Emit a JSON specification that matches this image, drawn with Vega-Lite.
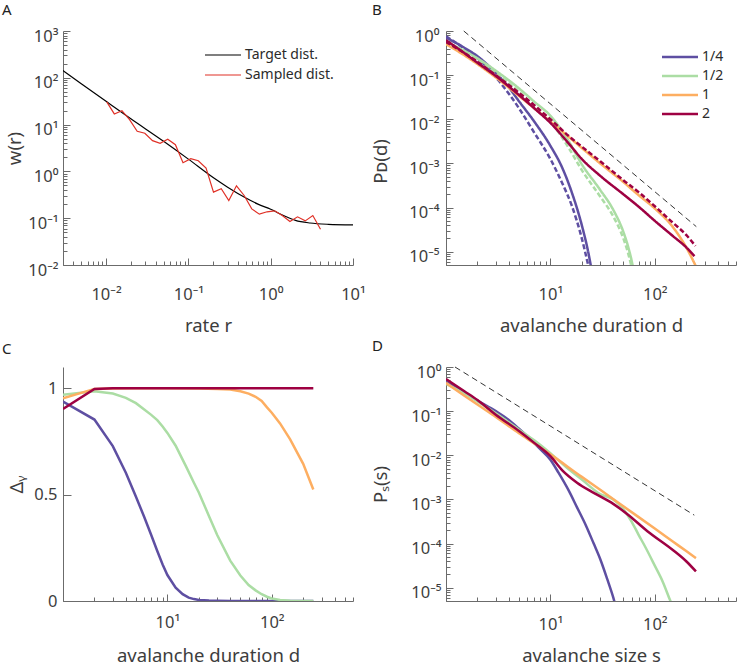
{
  "$schema": "https://vega.github.io/schema/vega-lite/v6.json",
  "padding": {"left": 2, "top": 3, "right": 0, "bottom": 0},
  "background": "white",
  "bounds": "flush",
  "columns": 2,
  "spacing": {"row": 102, "column": 93},
  "resolve": {"scale": {"color": "independent", "strokeDash": "independent"}, "legend": {"color": "independent"}},
  "config": {
    "view": {"stroke": null},
    "font": "Noto Sans",
    "axis": {"grid": false, "domainColor": "#6b6b6b", "tickColor": "#6b6b6b", "labelColor": "#3d3d3d", "titleColor": "#3d3d3d", "labelFont": "Noto Sans", "titleFont": "Noto Sans", "labelFontSize": 16.5, "titleFontSize": 18.5, "titleFontWeight": "normal", "labelFlush": false, "labelOverlap": false, "labelBound": false, "tickWidth": 1, "domainWidth": 1},
    "legend": {"labelFont": "Noto Sans", "labelFontSize": 14, "labelColor": "#2b2b2b"},
    "title": {"font": "Noto Sans", "fontSize": 15, "fontWeight": "normal", "color": "#222222", "anchor": "start", "frame": "group", "baseline": "alphabetic"}
  },
  "datasets": {
    "A": [
      {"r": 0.003, "w": 143, "s": "Target dist."},
      {"r": 0.005, "w": 75, "s": "Target dist."},
      {"r": 0.01, "w": 31.5, "s": "Target dist."},
      {"r": 0.02, "w": 13.3, "s": "Target dist."},
      {"r": 0.05, "w": 4.4, "s": "Target dist."},
      {"r": 0.1, "w": 1.83, "s": "Target dist."},
      {"r": 0.2, "w": 0.74, "s": "Target dist."},
      {"r": 0.3, "w": 0.46, "s": "Target dist."},
      {"r": 0.5, "w": 0.27, "s": "Target dist."},
      {"r": 0.7, "w": 0.2, "s": "Target dist."},
      {"r": 1, "w": 0.155, "s": "Target dist."},
      {"r": 1.5, "w": 0.11, "s": "Target dist."},
      {"r": 2, "w": 0.09, "s": "Target dist."},
      {"r": 3, "w": 0.079, "s": "Target dist."},
      {"r": 5, "w": 0.074, "s": "Target dist."},
      {"r": 10, "w": 0.072, "s": "Target dist."},
      {"r": 0.0102, "w": 30.6, "s": "Sampled dist."},
      {"r": 0.0126, "w": 16.9, "s": "Sampled dist."},
      {"r": 0.0156, "w": 19.9, "s": "Sampled dist."},
      {"r": 0.0193, "w": 12.8, "s": "Sampled dist."},
      {"r": 0.0239, "w": 7.19, "s": "Sampled dist."},
      {"r": 0.0296, "w": 6.52, "s": "Sampled dist."},
      {"r": 0.0367, "w": 4.54, "s": "Sampled dist."},
      {"r": 0.0454, "w": 3.98, "s": "Sampled dist."},
      {"r": 0.0562, "w": 4.85, "s": "Sampled dist."},
      {"r": 0.0696, "w": 3.73, "s": "Sampled dist."},
      {"r": 0.0861, "w": 1.53, "s": "Sampled dist."},
      {"r": 0.107, "w": 1.87, "s": "Sampled dist."},
      {"r": 0.132, "w": 1.69, "s": "Sampled dist."},
      {"r": 0.164, "w": 1.18, "s": "Sampled dist."},
      {"r": 0.202, "w": 0.361, "s": "Sampled dist."},
      {"r": 0.251, "w": 0.425, "s": "Sampled dist."},
      {"r": 0.31, "w": 0.239, "s": "Sampled dist."},
      {"r": 0.384, "w": 0.493, "s": "Sampled dist."},
      {"r": 0.476, "w": 0.306, "s": "Sampled dist."},
      {"r": 0.589, "w": 0.158, "s": "Sampled dist."},
      {"r": 0.729, "w": 0.122, "s": "Sampled dist."},
      {"r": 0.903, "w": 0.137, "s": "Sampled dist."},
      {"r": 1.117, "w": 0.144, "s": "Sampled dist."},
      {"r": 1.383, "w": 0.114, "s": "Sampled dist."},
      {"r": 1.713, "w": 0.0849, "s": "Sampled dist."},
      {"r": 2.12, "w": 0.107, "s": "Sampled dist."},
      {"r": 2.63, "w": 0.0877, "s": "Sampled dist."},
      {"r": 3.25, "w": 0.114, "s": "Sampled dist."},
      {"r": 4.03, "w": 0.058, "s": "Sampled dist."}
    ],
    "Bref": [{"d": 1.48, "p": 1}, {"d": 250, "p": 3.7e-5}],
    "B": [
      {"d": 1, "p": 0.708, "g": "1/4", "st": "solid"},
      {"d": 1.5, "p": 0.417, "g": "1/4", "st": "solid"},
      {"d": 2, "p": 0.269, "g": "1/4", "st": "solid"},
      {"d": 3, "p": 0.112, "g": "1/4", "st": "solid"},
      {"d": 4, "p": 0.0525, "g": "1/4", "st": "solid"},
      {"d": 5, "p": 0.0257, "g": "1/4", "st": "solid"},
      {"d": 7, "p": 0.00891, "g": "1/4", "st": "solid"},
      {"d": 10, "p": 0.00251, "g": "1/4", "st": "solid"},
      {"d": 13, "p": 7.94e-4, "g": "1/4", "st": "solid"},
      {"d": 16, "p": 2.24e-4, "g": "1/4", "st": "solid"},
      {"d": 20, "p": 3.98e-5, "g": "1/4", "st": "solid"},
      {"d": 23, "p": 1e-5, "g": "1/4", "st": "solid"},
      {"d": 25, "p": 3.55e-6, "g": "1/4", "st": "solid"},
      {"d": 1, "p": 0.759, "g": "1/4", "st": "dashed"},
      {"d": 1.5, "p": 0.398, "g": "1/4", "st": "dashed"},
      {"d": 2, "p": 0.24, "g": "1/4", "st": "dashed"},
      {"d": 3, "p": 0.0891, "g": "1/4", "st": "dashed"},
      {"d": 4, "p": 0.038, "g": "1/4", "st": "dashed"},
      {"d": 5, "p": 0.0178, "g": "1/4", "st": "dashed"},
      {"d": 7, "p": 0.00501, "g": "1/4", "st": "dashed"},
      {"d": 10, "p": 0.00126, "g": "1/4", "st": "dashed"},
      {"d": 13, "p": 3.55e-4, "g": "1/4", "st": "dashed"},
      {"d": 16, "p": 1.12e-4, "g": "1/4", "st": "dashed"},
      {"d": 20, "p": 2.0e-5, "g": "1/4", "st": "dashed"},
      {"d": 23, "p": 5.0e-6, "g": "1/4", "st": "dashed"},
      {"d": 24, "p": 3.16e-6, "g": "1/4", "st": "dashed"},
      {"d": 1, "p": 0.562, "g": "1/2", "st": "solid"},
      {"d": 1.5, "p": 0.355, "g": "1/2", "st": "solid"},
      {"d": 2, "p": 0.24, "g": "1/2", "st": "solid"},
      {"d": 3, "p": 0.126, "g": "1/2", "st": "solid"},
      {"d": 5, "p": 0.0501, "g": "1/2", "st": "solid"},
      {"d": 7, "p": 0.0251, "g": "1/2", "st": "solid"},
      {"d": 10, "p": 0.012, "g": "1/2", "st": "solid"},
      {"d": 15, "p": 0.00316, "g": "1/2", "st": "solid"},
      {"d": 20, "p": 9.55e-4, "g": "1/2", "st": "solid"},
      {"d": 30, "p": 2.51e-4, "g": "1/2", "st": "solid"},
      {"d": 40, "p": 8.91e-5, "g": "1/2", "st": "solid"},
      {"d": 50, "p": 2.82e-5, "g": "1/2", "st": "solid"},
      {"d": 55, "p": 1.41e-5, "g": "1/2", "st": "solid"},
      {"d": 60, "p": 6.31e-6, "g": "1/2", "st": "solid"},
      {"d": 63, "p": 3.55e-6, "g": "1/2", "st": "solid"},
      {"d": 1, "p": 0.562, "g": "1/2", "st": "dashed"},
      {"d": 1.5, "p": 0.339, "g": "1/2", "st": "dashed"},
      {"d": 2, "p": 0.224, "g": "1/2", "st": "dashed"},
      {"d": 3, "p": 0.112, "g": "1/2", "st": "dashed"},
      {"d": 5, "p": 0.0417, "g": "1/2", "st": "dashed"},
      {"d": 7, "p": 0.02, "g": "1/2", "st": "dashed"},
      {"d": 10, "p": 0.00891, "g": "1/2", "st": "dashed"},
      {"d": 15, "p": 0.00224, "g": "1/2", "st": "dashed"},
      {"d": 20, "p": 7.08e-4, "g": "1/2", "st": "dashed"},
      {"d": 30, "p": 1.78e-4, "g": "1/2", "st": "dashed"},
      {"d": 40, "p": 6.31e-5, "g": "1/2", "st": "dashed"},
      {"d": 50, "p": 2.0e-5, "g": "1/2", "st": "dashed"},
      {"d": 55, "p": 1.0e-5, "g": "1/2", "st": "dashed"},
      {"d": 60, "p": 4.47e-6, "g": "1/2", "st": "dashed"},
      {"d": 62, "p": 3.16e-6, "g": "1/2", "st": "dashed"},
      {"d": 1, "p": 0.501, "g": "1", "st": "solid"},
      {"d": 1.5, "p": 0.282, "g": "1", "st": "solid"},
      {"d": 2, "p": 0.178, "g": "1", "st": "solid"},
      {"d": 3, "p": 0.0891, "g": "1", "st": "solid"},
      {"d": 5, "p": 0.0339, "g": "1", "st": "solid"},
      {"d": 7, "p": 0.0178, "g": "1", "st": "solid"},
      {"d": 10, "p": 0.00891, "g": "1", "st": "solid"},
      {"d": 15, "p": 0.00398, "g": "1", "st": "solid"},
      {"d": 20, "p": 0.00224, "g": "1", "st": "solid"},
      {"d": 30, "p": 0.001, "g": "1", "st": "solid"},
      {"d": 50, "p": 3.8e-4, "g": "1", "st": "solid"},
      {"d": 70, "p": 1.91e-4, "g": "1", "st": "solid"},
      {"d": 100, "p": 9.55e-5, "g": "1", "st": "solid"},
      {"d": 150, "p": 3.55e-5, "g": "1", "st": "solid"},
      {"d": 200, "p": 1.26e-5, "g": "1", "st": "solid"},
      {"d": 250, "p": 4.47e-6, "g": "1", "st": "solid"},
      {"d": 1, "p": 0.617, "g": "2", "st": "solid"},
      {"d": 1.5, "p": 0.316, "g": "2", "st": "solid"},
      {"d": 2, "p": 0.191, "g": "2", "st": "solid"},
      {"d": 3, "p": 0.0955, "g": "2", "st": "solid"},
      {"d": 5, "p": 0.0355, "g": "2", "st": "solid"},
      {"d": 7, "p": 0.0178, "g": "2", "st": "solid"},
      {"d": 10, "p": 0.00832, "g": "2", "st": "solid"},
      {"d": 15, "p": 0.00282, "g": "2", "st": "solid"},
      {"d": 20, "p": 0.00126, "g": "2", "st": "solid"},
      {"d": 30, "p": 5.25e-4, "g": "2", "st": "solid"},
      {"d": 50, "p": 2.0e-4, "g": "2", "st": "solid"},
      {"d": 70, "p": 1.05e-4, "g": "2", "st": "solid"},
      {"d": 100, "p": 5.01e-5, "g": "2", "st": "solid"},
      {"d": 150, "p": 2.24e-5, "g": "2", "st": "solid"},
      {"d": 200, "p": 1.26e-5, "g": "2", "st": "solid"},
      {"d": 240, "p": 7.94e-6, "g": "2", "st": "solid"},
      {"d": 1, "p": 0.562, "g": "2", "st": "dashed"},
      {"d": 1.5, "p": 0.316, "g": "2", "st": "dashed"},
      {"d": 2, "p": 0.2, "g": "2", "st": "dashed"},
      {"d": 3, "p": 0.1, "g": "2", "st": "dashed"},
      {"d": 5, "p": 0.0398, "g": "2", "st": "dashed"},
      {"d": 7, "p": 0.0209, "g": "2", "st": "dashed"},
      {"d": 10, "p": 0.01, "g": "2", "st": "dashed"},
      {"d": 15, "p": 0.00417, "g": "2", "st": "dashed"},
      {"d": 20, "p": 0.0024, "g": "2", "st": "dashed"},
      {"d": 30, "p": 0.00112, "g": "2", "st": "dashed"},
      {"d": 50, "p": 4.17e-4, "g": "2", "st": "dashed"},
      {"d": 70, "p": 2.24e-4, "g": "2", "st": "dashed"},
      {"d": 100, "p": 1.07e-4, "g": "2", "st": "dashed"},
      {"d": 150, "p": 4.47e-5, "g": "2", "st": "dashed"},
      {"d": 200, "p": 2.4e-5, "g": "2", "st": "dashed"},
      {"d": 245, "p": 1.35e-5, "g": "2", "st": "dashed"}
    ],
    "C": [
      {"d": 1, "v": 0.937, "g": "1/4"}, {"d": 2, "v": 0.853, "g": "1/4"}, {"d": 3, "v": 0.728, "g": "1/4"}, {"d": 4, "v": 0.603, "g": "1/4"}, {"d": 5, "v": 0.49, "g": "1/4"}, {"d": 6, "v": 0.395, "g": "1/4"}, {"d": 7, "v": 0.31, "g": "1/4"}, {"d": 8, "v": 0.235, "g": "1/4"}, {"d": 9, "v": 0.172, "g": "1/4"}, {"d": 10, "v": 0.122, "g": "1/4"}, {"d": 12, "v": 0.063, "g": "1/4"}, {"d": 14, "v": 0.032, "g": "1/4"}, {"d": 16, "v": 0.016, "g": "1/4"}, {"d": 18, "v": 0.009, "g": "1/4"}, {"d": 20, "v": 0.005, "g": "1/4"}, {"d": 25, "v": 0.002, "g": "1/4"}, {"d": 30, "v": 0.001, "g": "1/4"}, {"d": 40, "v": 0, "g": "1/4"}, {"d": 100, "v": 0, "g": "1/4"}, {"d": 250, "v": 0, "g": "1/4"},
      {"d": 1, "v": 0.969, "g": "1/2"}, {"d": 2, "v": 0.986, "g": "1/2"}, {"d": 3, "v": 0.975, "g": "1/2"}, {"d": 4, "v": 0.955, "g": "1/2"}, {"d": 5, "v": 0.93, "g": "1/2"}, {"d": 6, "v": 0.9, "g": "1/2"}, {"d": 7, "v": 0.875, "g": "1/2"}, {"d": 8, "v": 0.85, "g": "1/2"}, {"d": 9, "v": 0.82, "g": "1/2"}, {"d": 10, "v": 0.79, "g": "1/2"}, {"d": 12, "v": 0.73, "g": "1/2"}, {"d": 15, "v": 0.635, "g": "1/2"}, {"d": 18, "v": 0.555, "g": "1/2"}, {"d": 20, "v": 0.51, "g": "1/2"}, {"d": 25, "v": 0.4, "g": "1/2"}, {"d": 30, "v": 0.31, "g": "1/2"}, {"d": 40, "v": 0.19, "g": "1/2"}, {"d": 50, "v": 0.12, "g": "1/2"}, {"d": 60, "v": 0.075, "g": "1/2"}, {"d": 70, "v": 0.05, "g": "1/2"}, {"d": 80, "v": 0.032, "g": "1/2"}, {"d": 90, "v": 0.02, "g": "1/2"}, {"d": 100, "v": 0.012, "g": "1/2"}, {"d": 120, "v": 0.005, "g": "1/2"}, {"d": 150, "v": 0.001, "g": "1/2"}, {"d": 200, "v": 0, "g": "1/2"}, {"d": 250, "v": 0, "g": "1/2"},
      {"d": 1, "v": 0.953, "g": "1"}, {"d": 2, "v": 0.997, "g": "1"}, {"d": 3, "v": 0.999, "g": "1"}, {"d": 5, "v": 1, "g": "1"}, {"d": 10, "v": 1, "g": "1"}, {"d": 20, "v": 0.999, "g": "1"}, {"d": 30, "v": 0.997, "g": "1"}, {"d": 40, "v": 0.994, "g": "1"}, {"d": 50, "v": 0.986, "g": "1"}, {"d": 60, "v": 0.975, "g": "1"}, {"d": 70, "v": 0.96, "g": "1"}, {"d": 80, "v": 0.94, "g": "1"}, {"d": 90, "v": 0.91, "g": "1"}, {"d": 100, "v": 0.885, "g": "1"}, {"d": 120, "v": 0.835, "g": "1"}, {"d": 150, "v": 0.76, "g": "1"}, {"d": 200, "v": 0.645, "g": "1"}, {"d": 250, "v": 0.524, "g": "1"},
      {"d": 1, "v": 0.903, "g": "2"}, {"d": 2, "v": 0.997, "g": "2"}, {"d": 3, "v": 1, "g": "2"}, {"d": 10, "v": 1, "g": "2"}, {"d": 100, "v": 1, "g": "2"}, {"d": 250, "v": 1, "g": "2"}
    ],
    "Dref": [{"d": 1.22, "p": 1}, {"d": 239, "p": 4.4e-4}],
    "D": [
      {"d": 1, "p": 0.468, "g": "1/4"}, {"d": 1.5, "p": 0.263, "g": "1/4"}, {"d": 2, "p": 0.174, "g": "1/4"}, {"d": 3, "p": 0.1, "g": "1/4"}, {"d": 4, "p": 0.0631, "g": "1/4"}, {"d": 5, "p": 0.0398, "g": "1/4"}, {"d": 6, "p": 0.0269, "g": "1/4"}, {"d": 8, "p": 0.0138, "g": "1/4"}, {"d": 10, "p": 0.00794, "g": "1/4"}, {"d": 12, "p": 0.00398, "g": "1/4"}, {"d": 15, "p": 0.00158, "g": "1/4"}, {"d": 18, "p": 6.61e-4, "g": "1/4"}, {"d": 22, "p": 2.51e-4, "g": "1/4"}, {"d": 26, "p": 1.0e-4, "g": "1/4"}, {"d": 30, "p": 4.47e-5, "g": "1/4"}, {"d": 35, "p": 1.58e-5, "g": "1/4"}, {"d": 40, "p": 6.03e-6, "g": "1/4"}, {"d": 42, "p": 3.98e-6, "g": "1/4"},
      {"d": 1, "p": 0.417, "g": "1/2"}, {"d": 1.5, "p": 0.251, "g": "1/2"}, {"d": 2, "p": 0.166, "g": "1/2"}, {"d": 3, "p": 0.0891, "g": "1/2"}, {"d": 5, "p": 0.038, "g": "1/2"}, {"d": 7, "p": 0.0219, "g": "1/2"}, {"d": 10, "p": 0.0112, "g": "1/2"}, {"d": 15, "p": 0.00479, "g": "1/2"}, {"d": 20, "p": 0.00282, "g": "1/2"}, {"d": 30, "p": 0.00132, "g": "1/2"}, {"d": 40, "p": 0.001, "g": "1/2"}, {"d": 50, "p": 6.03e-4, "g": "1/2"}, {"d": 60, "p": 3.16e-4, "g": "1/2"}, {"d": 70, "p": 1.58e-4, "g": "1/2"}, {"d": 80, "p": 8.91e-5, "g": "1/2"}, {"d": 100, "p": 3.16e-5, "g": "1/2"}, {"d": 120, "p": 1.32e-5, "g": "1/2"}, {"d": 140, "p": 5.25e-6, "g": "1/2"}, {"d": 150, "p": 3.55e-6, "g": "1/2"},
      {"d": 1, "p": 0.437, "g": "1"}, {"d": 1.5, "p": 0.224, "g": "1"}, {"d": 2, "p": 0.141, "g": "1"}, {"d": 3, "p": 0.0741, "g": "1"}, {"d": 5, "p": 0.0316, "g": "1"}, {"d": 7, "p": 0.0186, "g": "1"}, {"d": 10, "p": 0.0105, "g": "1"}, {"d": 20, "p": 0.00324, "g": "1"}, {"d": 30, "p": 0.00166, "g": "1"}, {"d": 50, "p": 7.0e-4, "g": "1"}, {"d": 100, "p": 2.19e-4, "g": "1"}, {"d": 150, "p": 1.1e-4, "g": "1"}, {"d": 200, "p": 6.76e-5, "g": "1"}, {"d": 248, "p": 4.68e-5, "g": "1"},
      {"d": 1, "p": 0.537, "g": "2"}, {"d": 1.5, "p": 0.282, "g": "2"}, {"d": 2, "p": 0.178, "g": "2"}, {"d": 3, "p": 0.0832, "g": "2"}, {"d": 5, "p": 0.0355, "g": "2"}, {"d": 7, "p": 0.0191, "g": "2"}, {"d": 10, "p": 0.00955, "g": "2"}, {"d": 13, "p": 0.00457, "g": "2"}, {"d": 18, "p": 0.0024, "g": "2"}, {"d": 26, "p": 0.00141, "g": "2"}, {"d": 40, "p": 7.94e-4, "g": "2"}, {"d": 55, "p": 4.57e-4, "g": "2"}, {"d": 85, "p": 1.91e-4, "g": "2"}, {"d": 150, "p": 7.08e-5, "g": "2"}, {"d": 200, "p": 3.98e-5, "g": "2"}, {"d": 248, "p": 2.34e-5, "g": "2"}
    ]
  },
  "concat": [
    {
      "width": 290, "height": 234,
      "title": {"text": "A", "dx": -61, "offset": 10},
      "data": {"name": "A"},
      "layer": [
        {
          "transform": [{"filter": "datum.s === 'Target dist.'"}],
          "mark": {"type": "line", "strokeWidth": 1.2, "interpolate": "monotone", "clip": true},
          "encoding": {
            "x": {"field": "r", "type": "quantitative", "scale": {"type": "log", "domain": [0.003, 10], "nice": false},
              "axis": {"title": "rate r", "values": [0.003,0.004,0.005,0.006,0.007,0.008,0.009,0.01,0.02,0.03,0.04,0.05,0.06,0.07,0.08,0.09,0.1,0.2,0.3,0.4,0.5,0.6,0.7,0.8,0.9,1,2,3,4,5,6,7,8,9,10],
                "labelExpr": "abs(log(datum.value)/LN10 - round(log(datum.value)/LN10)) < 0.001 ? ['10⁻⁵','10⁻⁴','10⁻³','10⁻²','10⁻¹','10⁰','10¹','10²','10³'][round(log(datum.value)/LN10)+5] : ''",
                "tickSize": {"condition": {"test": "abs(log(datum.value)/LN10 - round(log(datum.value)/LN10)) < 0.001", "value": -7}, "value": -4},
                "labelPadding": 28, "titleY": 66, "titleBaseline": "alphabetic"}},
            "y": {"field": "w", "type": "quantitative", "scale": {"type": "log", "domain": [0.01, 1000], "nice": false},
              "axis": {"title": "w(r)", "values": [0.01,0.02,0.03,0.04,0.05,0.06,0.07,0.08,0.09,0.1,0.2,0.3,0.4,0.5,0.6,0.7,0.8,0.9,1,2,3,4,5,6,7,8,9,10,20,30,40,50,60,70,80,90,100,200,300,400,500,600,700,800,900,1000],
                "labelExpr": "abs(log(datum.value)/LN10 - round(log(datum.value)/LN10)) < 0.001 ? ['10⁻⁵','10⁻⁴','10⁻³','10⁻²','10⁻¹','10⁰','10¹','10²','10³'][round(log(datum.value)/LN10)+5] : ''",
                "tickSize": {"condition": {"test": "abs(log(datum.value)/LN10 - round(log(datum.value)/LN10)) < 0.001", "value": -7}, "value": -4},
                "labelPadding": 12, "labelOffset": 5, "titleX": -43, "titleBaseline": "alphabetic"}},
            "color": {"field": "s", "type": "nominal", "scale": {"domain": ["Target dist.", "Sampled dist."], "range": ["#000000", "#e03127"]},
              "legend": {"orient": "none", "legendX": 153, "legendY": 17, "title": null, "symbolType": "M-4,0H4", "symbolSize": 81, "symbolStrokeWidth": 1.2, "labelOffset": 15, "rowPadding": 6}}
          }
        },
        {
          "transform": [{"filter": "datum.s === 'Sampled dist.'"}],
          "mark": {"type": "line", "strokeWidth": 1.2, "clip": true},
          "encoding": {
            "x": {"field": "r", "type": "quantitative", "scale": {"type": "log", "domain": [0.003, 10], "nice": false}},
            "y": {"field": "w", "type": "quantitative", "scale": {"type": "log", "domain": [0.01, 1000], "nice": false}},
            "color": {"field": "s", "type": "nominal"}
          }
        }
      ]
    },
    {
      "width": 290, "height": 234,
      "title": {"text": "B", "dx": -74, "offset": 10},
      "layer": [
        {
          "data": {"name": "Bref"},
          "mark": {"type": "line", "color": "#000000", "strokeWidth": 0.8, "strokeDash": [6, 4]},
          "encoding": {
            "x": {"field": "d", "type": "quantitative", "scale": {"type": "log", "domain": [1, 600], "nice": false},
              "axis": {"title": "avalanche duration d", "values": [1,2,3,4,5,6,7,8,9,10,20,30,40,50,60,70,80,90,100,200,300,400,500,600],
                "labelExpr": "abs(log(datum.value)/LN10 - round(log(datum.value)/LN10)) < 0.001 && datum.value > 5 ? ['10⁻⁵','10⁻⁴','10⁻³','10⁻²','10⁻¹','10⁰','10¹','10²','10³'][round(log(datum.value)/LN10)+5] : ''",
                "tickSize": {"condition": {"test": "abs(log(datum.value)/LN10 - round(log(datum.value)/LN10)) < 0.001", "value": -7}, "value": -4},
                "labelPadding": 28, "titleY": 66, "titleBaseline": "alphabetic"}},
            "y": {"field": "p", "type": "quantitative", "scale": {"type": "log", "domain": [5e-6, 1], "nice": false},
              "axis": {"title": "Pᴅ(d)", "values": [5e-6,6e-6,7e-6,8e-6,9e-6,1e-5,2e-5,3e-5,4e-5,5e-5,6e-5,7e-5,8e-5,9e-5,1e-4,2e-4,3e-4,4e-4,5e-4,6e-4,7e-4,8e-4,9e-4,0.001,0.002,0.003,0.004,0.005,0.006,0.007,0.008,0.009,0.01,0.02,0.03,0.04,0.05,0.06,0.07,0.08,0.09,0.1,0.2,0.3,0.4,0.5,0.6,0.7,0.8,0.9,1],
                "labelExpr": "abs(log(datum.value)/LN10 - round(log(datum.value)/LN10)) < 0.001 ? ['10⁻⁵','10⁻⁴','10⁻³','10⁻²','10⁻¹','10⁰','10¹','10²','10³'][round(log(datum.value)/LN10)+5] : ''",
                "tickSize": {"condition": {"test": "abs(log(datum.value)/LN10 - round(log(datum.value)/LN10)) < 0.001", "value": -7}, "value": -4},
                "labelPadding": 14, "labelOffset": 5, "titleX": -60, "titleY": 130, "titleBaseline": "alphabetic"}}
          }
        },
        {
          "data": {"name": "B"},
          "mark": {"type": "line", "strokeWidth": 2.5, "interpolate": "monotone", "clip": true},
          "encoding": {
            "x": {"field": "d", "type": "quantitative", "scale": {"type": "log", "domain": [1, 600], "nice": false}},
            "y": {"field": "p", "type": "quantitative", "scale": {"type": "log", "domain": [5e-6, 1], "nice": false}},
            "color": {"field": "g", "type": "nominal", "scale": {"domain": ["1/4", "1/2", "1", "2"], "range": ["#5e4fa2", "#abdda4", "#fdae61", "#9e0142"]},
              "legend": {"orient": "none", "legendX": 227, "legendY": 19, "title": null, "symbolType": "M-4,0H4", "symbolSize": 81, "symbolStrokeWidth": 2.5, "labelOffset": 15, "rowPadding": 5}},
            "strokeDash": {"field": "st", "type": "nominal", "scale": {"domain": ["solid", "dashed"], "range": [[1, 0], [5, 2.5]]}, "legend": null}
          }
        }
      ]
    },
    {
      "width": 290, "height": 234,
      "title": {"text": "C", "dx": -61, "offset": 10},
      "data": {"name": "C"},
      "mark": {"type": "line", "strokeWidth": 2.5, "clip": true},
      "encoding": {
        "x": {"field": "d", "type": "quantitative", "scale": {"type": "log", "domain": [1, 600], "nice": false},
          "axis": {"title": "avalanche duration d", "values": [1,2,3,4,5,6,7,8,9,10,20,30,40,50,60,70,80,90,100,200,300,400,500,600],
            "labelExpr": "abs(log(datum.value)/LN10 - round(log(datum.value)/LN10)) < 0.001 && datum.value > 5 ? ['10⁻⁵','10⁻⁴','10⁻³','10⁻²','10⁻¹','10⁰','10¹','10²','10³'][round(log(datum.value)/LN10)+5] : ''",
            "tickSize": {"condition": {"test": "abs(log(datum.value)/LN10 - round(log(datum.value)/LN10)) < 0.001", "value": -7}, "value": -4},
            "labelPadding": 20, "titleY": 60, "titleBaseline": "alphabetic"}},
        "y": {"field": "v", "type": "quantitative", "scale": {"domain": [0, 1.1], "nice": false, "zero": false},
          "axis": {"title": "Δᵧ", "values": [0, 0.5, 1], "format": "~g", "tickSize": -8, "labelPadding": 14, "titleX": -41, "titleBaseline": "alphabetic"}},
        "color": {"field": "g", "type": "nominal", "scale": {"domain": ["1/4", "1/2", "1", "2"], "range": ["#5e4fa2", "#abdda4", "#fdae61", "#9e0142"]}, "legend": null}
      }
    },
    {
      "width": 290, "height": 234,
      "title": {"text": "D", "dx": -74, "offset": 10},
      "layer": [
        {
          "data": {"name": "Dref"},
          "mark": {"type": "line", "color": "#000000", "strokeWidth": 0.8, "strokeDash": [6, 4]},
          "encoding": {
            "x": {"field": "d", "type": "quantitative", "scale": {"type": "log", "domain": [1, 600], "nice": false},
              "axis": {"title": "avalanche size s", "values": [1,2,3,4,5,6,7,8,9,10,20,30,40,50,60,70,80,90,100,200,300,400,500,600],
                "labelExpr": "abs(log(datum.value)/LN10 - round(log(datum.value)/LN10)) < 0.001 && datum.value > 5 ? ['10⁻⁵','10⁻⁴','10⁻³','10⁻²','10⁻¹','10⁰','10¹','10²','10³'][round(log(datum.value)/LN10)+5] : ''",
                "tickSize": {"condition": {"test": "abs(log(datum.value)/LN10 - round(log(datum.value)/LN10)) < 0.001", "value": -7}, "value": -4},
                "labelPadding": 22, "titleY": 60, "titleBaseline": "alphabetic"}},
            "y": {"field": "p", "type": "quantitative", "scale": {"type": "log", "domain": [5e-6, 1], "nice": false},
              "axis": {"title": "Pₛ(s)", "values": [5e-6,6e-6,7e-6,8e-6,9e-6,1e-5,2e-5,3e-5,4e-5,5e-5,6e-5,7e-5,8e-5,9e-5,1e-4,2e-4,3e-4,4e-4,5e-4,6e-4,7e-4,8e-4,9e-4,0.001,0.002,0.003,0.004,0.005,0.006,0.007,0.008,0.009,0.01,0.02,0.03,0.04,0.05,0.06,0.07,0.08,0.09,0.1,0.2,0.3,0.4,0.5,0.6,0.7,0.8,0.9,1],
                "labelExpr": "abs(log(datum.value)/LN10 - round(log(datum.value)/LN10)) < 0.001 ? ['10⁻⁵','10⁻⁴','10⁻³','10⁻²','10⁻¹','10⁰','10¹','10²','10³'][round(log(datum.value)/LN10)+5] : ''",
                "tickSize": {"condition": {"test": "abs(log(datum.value)/LN10 - round(log(datum.value)/LN10)) < 0.001", "value": -7}, "value": -4},
                "labelPadding": 12, "labelOffset": 5, "titleX": -60, "titleBaseline": "alphabetic"}}
          }
        },
        {
          "data": {"name": "D"},
          "mark": {"type": "line", "strokeWidth": 2.5, "interpolate": "monotone", "clip": true},
          "encoding": {
            "x": {"field": "d", "type": "quantitative", "scale": {"type": "log", "domain": [1, 600], "nice": false}},
            "y": {"field": "p", "type": "quantitative", "scale": {"type": "log", "domain": [5e-6, 1], "nice": false}},
            "color": {"field": "g", "type": "nominal", "scale": {"domain": ["1/4", "1/2", "1", "2"], "range": ["#5e4fa2", "#abdda4", "#fdae61", "#9e0142"]}, "legend": null}
          }
        }
      ]
    }
  ]
}
